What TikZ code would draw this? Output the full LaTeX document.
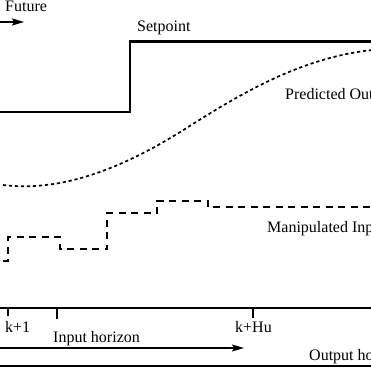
\documentclass[tikz,border=0pt]{standalone}
\usepackage{fontspec}
\setmainfont{Liberation Serif}
\usetikzlibrary{arrows.meta}
\begin{document}
\begin{tikzpicture}[x=1pt,y=-1pt,
  lbl/.style={anchor=base west,inner sep=0pt,font=\fontsize{16}{19}\selectfont},
  thin axis/.style={line width=1.1pt},
  setline/.style={line width=2.2pt},
  predline/.style={line width=1.7pt,dash pattern=on 3.2pt off 2.8pt},
  manline/.style={line width=1.6pt,dash pattern=on 7pt off 5.5pt},
  arr/.style={line width=1.1pt,-{Stealth[length=12pt,width=7pt,inset=2pt]}}]
\useasboundingbox (0,0) rectangle (371,371);
\clip (0,0) rectangle (371,371);
% Future
\node[lbl] (future) at (5,11.5) {Future};
\coordinate (fa) at (0,22);
\coordinate (fb) at (24,22);
\draw[arr] (fa) -- (fb);
% Setpoint
\node[lbl] (setp) at (137,32) {Setpoint};
\coordinate (s0) at (0,112);
\coordinate (s1) at (130,112);
\coordinate (s2) at (130,41.5);
\coordinate (s3) at (375,41.5);
\draw[setline] (s0) -- (s1) -- (s2) -- (s3);
% Predicted output
\node[lbl] (pred) at (285,100) {Predicted Output};
\coordinate (p0) at (3,185);
\coordinate (p1) at (185,129);
\coordinate (p2) at (372,50);
\draw[predline] (p0) .. controls (60,192) and (120,170) .. (p1)
  .. controls (240,94) and (300,58) .. (p2);
% Manipulated input
\node[lbl] (manip) at (267,232) {Manipulated Input};
\draw[manline] (3,261) -- (8,261) -- (8,237) -- (60,237) -- (60,249) -- (107,249) -- (107,213)
  -- (157,213) -- (157,201) -- (208,201) -- (208,207) -- (375,207);
% time axis
\coordinate (ax0) at (0,308);
\coordinate (ax1) at (375,308);
\draw[thin axis] (ax0) -- (ax1);
\coordinate (t1) at (8,308);
\coordinate (t1b) at (8,316);
\coordinate (t2) at (57,308);
\coordinate (t2b) at (57,319);
\coordinate (t3) at (253,308);
\coordinate (t3b) at (253,318);
\draw[thin axis] (t1) -- (t1b);
\draw[thin axis] (t2) -- (t2b);
\draw[thin axis] (t3) -- (t3b);
\node[lbl] (k1) at (5,332) {k+1};
\node[lbl] (khu) at (235,332) {k+Hu};
% input horizon
\node[lbl] (inh) at (53,342) {Input horizon};
\coordinate (ia) at (0,348);
\coordinate (ib) at (244,348);
\draw[arr] (ia) -- (ib);
% output horizon
\node[lbl] (outh) at (309,360) {Output horizon};
\coordinate (oa) at (0,366);
\coordinate (ob) at (375,366);
\draw[thin axis] (oa) -- (ob);
\end{tikzpicture}
\end{document}
